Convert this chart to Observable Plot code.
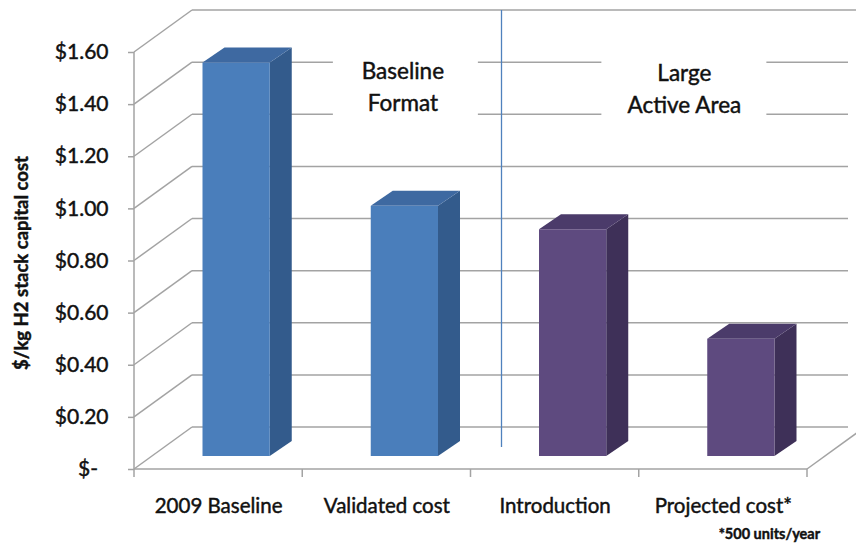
<!DOCTYPE html>
<html><head><meta charset="utf-8">
<script src="https://cdn.jsdelivr.net/npm/d3@7"></script>
<script src="https://cdn.jsdelivr.net/npm/@observablehq/plot@0.6"></script>
<style>
body{margin:0;background:#fff;}
#chart svg{display:block;}
#chart svg text{stroke:#111;stroke-width:0.45px;}
</style>
</head><body><div id="chart"></div>
<script>
// ---- data ----
const categories = ["2009 Baseline", "Validated cost", "Introduction", "Projected cost*"];
const costs = [1.51, 0.96, 0.87, 0.45];
const groups = ["Baseline Format", "Baseline Format", "Large Active Area", "Large Active Area"];
const yTicks = [0, 0.2, 0.4, 0.6, 0.8, 1.0, 1.2, 1.4, 1.6];
const notes = ["Baseline\nFormat", "Large\nActive Area"];
const footnote = "*500 units/year";
const yLabel = "$/kg H2 stack capital cost";

const data = categories.map((c, i) => ({category: c, cost: costs[i], group: groups[i]}));

// ---- styles ----
const FONT = "Lato, 'Open Sans', sans-serif";
const GRID = "#a3a3a3";
const DEPTH = {dx: 58, dy: -42};      // floor / wall depth
const BAR_FRONT = {dx: 18, dy: -13};  // bar front plane
const BAR_BACK = {dx: 40, dy: -28};   // bar back plane
const BAR_INSET = 50.5;
const palette = {
  "Baseline Format": {front: "#4a7ebb", side: "#335b8c", top: "#3e69a1"},
  "Large Active Area": {front: "#5e4a7f", side: "#3e3058", top: "#4b3b6a"}
};

const NS = "http://www.w3.org/2000/svg";
function el(tag, attrs) {
  const e = document.createElementNS(NS, tag);
  for (const k in attrs) e.setAttribute(k, attrs[k]);
  return e;
}
function custom(draw) {
  return function (...args) {
    const s = args.find(a => a && !ArrayBuffer.isView(a) && !Array.isArray(a) && typeof a.x === "function" && typeof a.y === "function");
    const g = el("g", {});
    if (s) draw(g, s);
    return g;
  };
}
function bw(x) {
  return typeof x.bandwidth === "function" ? x.bandwidth() : x(categories[1]) - x(categories[0]);
}
function seg(g, x1, y1, x2, y2, stroke = GRID, w = 1.5) {
  g.appendChild(el("line", {x1, y1, x2, y2, stroke, "stroke-width": w}));
}

// walls, floor, gridlines
const walls = custom((g, {x, y}) => {
  const b = bw(x);
  const x0 = x(categories[0]);
  const x1 = x(categories[categories.length - 1]) + b;
  const y0 = y(0);
  const top = yTicks[yTicks.length - 1];
  for (const t of yTicks) {
    seg(g, x0 + DEPTH.dx, y(t) + DEPTH.dy, t === top ? x1 + DEPTH.dx : x1 + DEPTH.dx - 17, y(t) + DEPTH.dy);
    seg(g, x0, y(t), x0 + DEPTH.dx, y(t) + DEPTH.dy);
  }
  seg(g, x0, y(top), x0, y0 + 8);
  seg(g, x0, y0, x1, y0);
  seg(g, x1, y0, x1 + DEPTH.dx, y0 + DEPTH.dy);
  for (const c of categories.slice(1)) seg(g, x(c), y0, x(c), y0 + 8);
  seg(g, x1, y0, x1, y0 + 8);
});

// white boxes behind annotations (interrupt back-wall gridlines)
const noteBoxes = custom((g, {x, y}) => {
  const b = bw(x);
  const boxes = [
    {cx: x(categories[1]) + b / 2 + 19, w: 145},
    {cx: x(categories[3]) + b / 2 - 39, w: 165}
  ];
  const yTop = y(1.5) + DEPTH.dy, yBot = y(1.1) + DEPTH.dy;
  for (const bx of boxes) {
    g.appendChild(el("rect", {x: bx.cx - bx.w / 2, y: yTop, width: bx.w, height: yBot - yTop, fill: "#fff"}));
  }
});

// divider between the two formats (mid-depth)
const divider = custom((g, {x, y}) => {
  const i = groups.findIndex(d => d !== groups[0]);
  const xb = x(categories[i]) + 31;
  seg(g, xb, y(0) - 22, xb, y(yTicks[yTicks.length - 1]) + DEPTH.dy, "#4f81bd", 1.3);
});

// bar side and top faces
const barFaces = custom((g, {x, y}) => {
  const b = bw(x);
  for (const d of data) {
    const xl = x(d.category) + BAR_INSET + BAR_FRONT.dx;
    const xr = x(d.category) + b - BAR_INSET + BAR_FRONT.dx;
    const yt = y(d.cost) + BAR_FRONT.dy;
    const yb = y(0) + BAR_FRONT.dy;
    const ddx = BAR_BACK.dx - BAR_FRONT.dx, ddy = BAR_BACK.dy - BAR_FRONT.dy;
    const c = palette[d.group];
    g.appendChild(el("polygon", {points: `${xr},${yt} ${xr + ddx},${yt + ddy} ${xr + ddx},${yb + ddy} ${xr},${yb}`, fill: c.side}));
    g.appendChild(el("polygon", {points: `${xl},${yt} ${xl + ddx},${yt + ddy} ${xr + ddx},${yt + ddy} ${xr},${yt}`, fill: c.top}));
  }
});

const fmt = v => v === 0 ? "$-\u2002" : "$" + v.toFixed(2);

const chart = Plot.plot({
  width: 856,
  height: 547,
  marginLeft: 134,
  marginRight: 49,
  marginTop: 52,
  marginBottom: 78,
  style: {fontFamily: FONT, color: "#111", background: "#fff", overflow: "visible"},
  x: {type: "band", domain: categories, padding: 0, round: false},
  y: {domain: [0, 1.6], round: false},
  marks: [
    walls,
    noteBoxes,
    divider,
    Plot.text([notes[0]], {x: () => categories[1], frameAnchor: "top", lineAnchor: "middle", dx: 16, dy: 32, fontSize: 22.5, lineHeight: 1.43, fill: "#111"}),
    Plot.text([notes[1]], {x: () => categories[3], frameAnchor: "top", lineAnchor: "middle", dx: -39, dy: 34, fontSize: 22.5, lineHeight: 1.43, fill: "#111"}),
    barFaces,
    ...Object.keys(palette).map(gname => Plot.barY(data.filter(d => d.group === gname), {
      x: "category", y: "cost", fill: palette[gname].front,
      insetLeft: BAR_INSET, insetRight: BAR_INSET, dx: BAR_FRONT.dx, dy: BAR_FRONT.dy
    })),
    Plot.axisY({ticks: yTicks, tickFormat: fmt, tickSize: 6, tickPadding: 20, fontSize: 21, stroke: GRID, strokeWidth: 1.5, label: null}),
    Plot.axisX({tickSize: 0, tickPadding: 29, fontSize: 20.5, label: null}),
    Plot.text([yLabel], {frameAnchor: "left", rotate: -90, textAnchor: "middle", dx: -112, dy: 2, fontSize: 18.5, fontWeight: "bold", fill: "#111"}),
    Plot.text([footnote], {x: () => categories[3], frameAnchor: "bottom", lineAnchor: "middle", dx: 46, dy: 65, fontSize: 14.5, fontWeight: "bold", fill: "#111"})
  ]
});
document.getElementById("chart").appendChild(chart);
</script>
</body></html>
